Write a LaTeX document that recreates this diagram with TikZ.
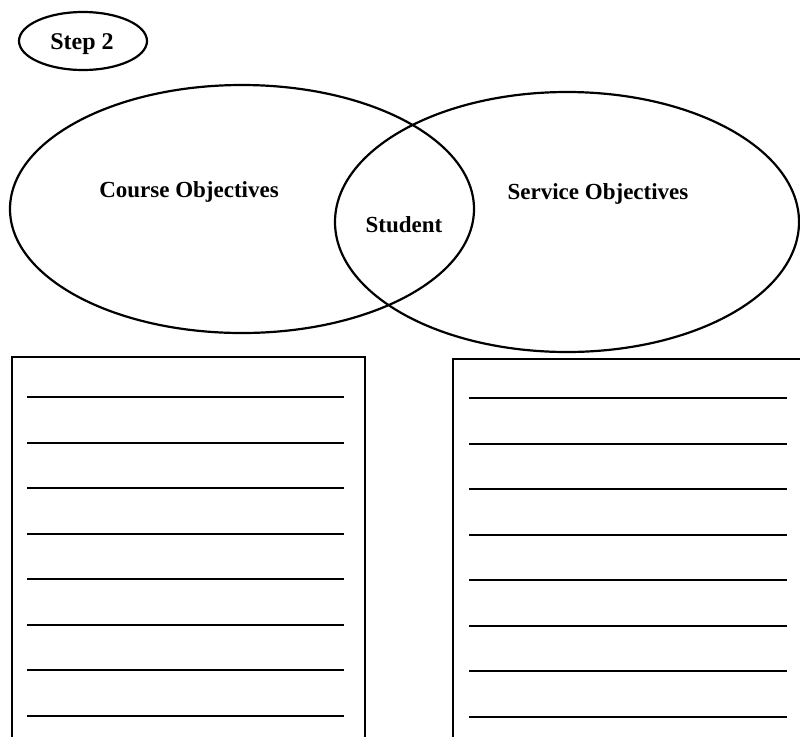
\documentclass[tikz,border=0pt]{standalone}
\usepackage{fontspec}
\setmainfont{Liberation Serif}
\begin{document}
\begin{tikzpicture}[x=1pt,y=-1pt,
  outline/.style={line width=2.2pt},
  rule/.style={line width=2pt},
  lab/.style={font=\bfseries\fontsize{23}{26}\selectfont, inner sep=0pt}]
\useasboundingbox (0,0) rectangle (800,737);
% step ellipse
\draw[outline] (83,41) ellipse [x radius=64, y radius=29];
\node[lab, font=\bfseries\fontsize{24}{28}\selectfont] (step) at (82,44) {Step 2};
% venn
\draw[outline] (242,209) ellipse [x radius=232, y radius=124];
\draw[outline] (567,222) ellipse [x radius=232, y radius=130];
\node[lab] (course) at (189,192) {Course Objectives};
\node[lab] (student) at (404,225) {Student};
\node[lab] (service) at (598,194) {Service Objectives};
% boxes
\draw[outline] (12,737) -- (12,357) -- (365,357) -- (365,737);
\draw[outline] (453,737) -- (453,359) -- (801,359);
\foreach \i in {0,...,7} {
  \draw[rule] (27,{397+45.5*\i}) -- (344,{397+45.5*\i});
  \draw[rule] (469,{398+45.5*\i}) -- (787,{398+45.5*\i});
}
\end{tikzpicture}
\end{document}
